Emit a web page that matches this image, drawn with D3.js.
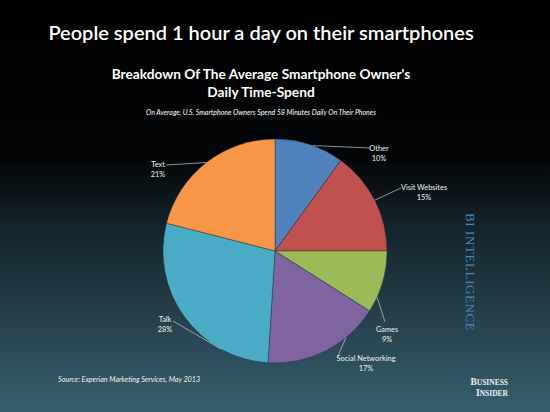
<!DOCTYPE html>
<html>
<head>
<meta charset="utf-8">
<script src="https://cdn.jsdelivr.net/npm/d3@7"></script>
<style>
  html, body { margin: 0; padding: 0; background: #000; }
  #chart { width: 550px; height: 412px; }
  text { font-family: Lato, "Open Sans", sans-serif; }
</style>
</head>
<body>
<div id="chart"></div>
<script>
// chart data
const categories = ["Other", "Visit Websites", "Games", "Social Networking", "Talk", "Text"];
const shares = [10, 15, 9, 17, 28, 21];
const sliceColors = ["#4f81bd", "#c0504d", "#9bbb59", "#8064a2", "#4bacc6", "#f79646"];

// label anchor (text x,y) and where each leader line ends
const labelPos = [
    {x: 379, y: 151, anchor: "middle", lineTo: [371, 148]},
    {x: 424, y: 190, anchor: "middle", lineTo: [401, 188]},
    {x: 387, y: 332, anchor: "middle", lineTo: [385, 322]},
    {x: 366, y: 361, anchor: "middle", lineTo: [337, 358]},
    {x: 165, y: 322, anchor: "middle", lineTo: [173, 321]},
    {x: 158, y: 167, anchor: "middle", lineTo: [166, 165]}
];

const width = 550, height = 412;

const svg = d3.select("#chart").append("svg")
    .attr("width", width)
    .attr("height", height);

// background gradient
const defs = svg.append("defs");
const grad = defs.append("linearGradient")
    .attr("id", "bg")
    .attr("x1", 0).attr("y1", 0).attr("x2", 0).attr("y2", 1);
grad.append("stop").attr("offset", "0%").attr("stop-color", "#000000");
grad.append("stop").attr("offset", "38%").attr("stop-color", "#030506");
grad.append("stop").attr("offset", "55%").attr("stop-color", "#13242b");
grad.append("stop").attr("offset", "100%").attr("stop-color", "#365f6e");

svg.append("rect")
    .attr("width", width)
    .attr("height", height)
    .attr("fill", "url(#bg)");

// titles
svg.append("text")
    .attr("x", 261).attr("y", 40)
    .attr("text-anchor", "middle")
    .attr("fill", "#fff")
    .attr("font-size", 20)
    .attr("font-weight", 600)
    .text("People spend 1 hour a day on their smartphones");

svg.append("text")
    .attr("x", 261).attr("y", 79)
    .attr("text-anchor", "middle")
    .attr("fill", "#fff")
    .attr("font-size", 13.7)
    .attr("font-weight", "bold")
    .text("Breakdown Of The Average Smartphone Owner's");

svg.append("text")
    .attr("x", 261).attr("y", 97)
    .attr("text-anchor", "middle")
    .attr("fill", "#fff")
    .attr("font-size", 13.7)
    .attr("font-weight", "bold")
    .text("Daily Time-Spend");

svg.append("text")
    .attr("x", 261).attr("y", 115)
    .attr("text-anchor", "middle")
    .attr("fill", "#fff")
    .attr("font-size", 7)
    .attr("font-style", "italic")
    .text("On Average, U.S. Smartphone Owners Spend 58 Minutes Daily On Their Phones");

// pie
const cx = 275, cy = 251, radius = 112;

const pie = d3.pie().sort(null).value(d => d);
const arc = d3.arc().innerRadius(0).outerRadius(radius);

const color = d3.scaleOrdinal().domain(categories).range(sliceColors);

const arcs = pie(shares);

const g = svg.append("g")
    .attr("transform", `translate(${cx},${cy})`);

g.selectAll("path.slice")
    .data(arcs)
    .enter().append("path")
    .attr("class", "slice")
    .attr("d", arc)
    .attr("fill", (d, i) => color(categories[i]))
    .attr("stroke", "#1a2a30")
    .attr("stroke-width", 0.4);

// leader lines from pie edge to the labels
const labels = svg.append("g");

arcs.forEach((d, i) => {
    let a = (d.startAngle + d.endAngle) / 2;
    // lines sit a bit off the slice centre in the original
    if (i === 0) a = d.startAngle + (d.endAngle - d.startAngle) * 0.55;
    if (i === 2) a = d.startAngle + (d.endAngle - d.startAngle) * 0.75;
    if (i === 3) a = d.startAngle + (d.endAngle - d.startAngle) * 0.3;
    if (i === 4) a = d.startAngle + (d.endAngle - d.startAngle) * 0.25;
    const px = cx + Math.sin(a) * radius;
    const py = cy - Math.cos(a) * radius;
    const p = labelPos[i];
    labels.append("line")
        .attr("x1", px).attr("y1", py)
        .attr("x2", p.lineTo[0]).attr("y2", p.lineTo[1])
        .attr("stroke", "#c8c8c8")
        .attr("stroke-width", 0.7);
});

const fmt = d => d + "%";

labelPos.forEach((p, i) => {
    const t = labels.append("text")
        .attr("x", p.x).attr("y", p.y)
        .attr("text-anchor", p.anchor)
        .attr("fill", "#f0f0f0")
        .attr("font-size", 7.4);
    t.append("tspan").attr("x", p.x).text(categories[i]);
    t.append("tspan").attr("x", p.x).attr("dy", 9.5).text(fmt(shares[i]));
});

// source
svg.append("text")
    .attr("x", 58).attr("y", 382)
    .attr("fill", "#f0f0f0")
    .attr("font-size", 7.2)
    .attr("font-style", "italic")
    .text("Source: Experian Marketing Services, May 2013");

// BI Intelligence vertical brand
svg.append("text")
    .attr("transform", "translate(466,213) rotate(90)")
    .attr("fill", "#4a86c0")
    .style("font-family", "'Liberation Serif', serif")
    .attr("font-size", 13)
    .attr("letter-spacing", 0.6)
    .text("BI INTELLIGENCE");

// Business Insider logo
const bi = svg.append("text")
    .attr("fill", "#eef1f3")
    .style("font-family", "'Liberation Serif', serif")
    .attr("font-weight", "bold")
    .attr("text-anchor", "end");
bi.append("tspan").attr("x", 508).attr("y", 385)
    .attr("font-size", 9.5).text("B").append("tspan").attr("font-size", 7.5).text("USINESS");
bi.append("tspan").attr("x", 508).attr("y", 396)
    .attr("font-size", 9.5).text("I").append("tspan").attr("font-size", 7.5).text("NSIDER");
</script>
</body>
</html>
